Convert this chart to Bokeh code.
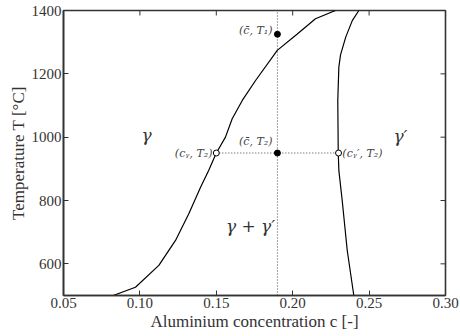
from bokeh.plotting import figure
from bokeh.models import Range1d, FixedTicker
from bokeh.core.properties import value
from bokeh.embed import file_html
from bokeh.resources import INLINE

# gamma solvus (left boundary)
gamma_c = [0.0825, 0.0971, 0.1124, 0.1233, 0.132, 0.1397, 0.1450, 0.1500, 0.156, 0.1604, 0.167, 0.1757, 0.1899, 0.203, 0.2149, 0.228]
gamma_T = [500, 526, 595, 674, 758, 842, 895, 950, 1000, 1058, 1116, 1179, 1274, 1326, 1374, 1400]
# gamma-prime boundary (right)
gprime_c = [0.2400, 0.2357, 0.2324, 0.2302, 0.2298, 0.2295, 0.2302, 0.2313, 0.2347, 0.2390, 0.2433]
gprime_T = [500, 642, 800, 895, 952, 1116, 1221, 1260, 1316, 1368, 1400]

c_bar = 0.19
T1 = 1325
T2 = 950
c_gamma = 0.15
c_gprime = 0.23

x_min, x_max = 0.05, 0.30
y_min, y_max = 500, 1400
x_ticks = [0.05, 0.10, 0.15, 0.20, 0.25, 0.30]
y_ticks = [600, 800, 1000, 1200, 1400]

FONT = "Liberation Serif"
ANN_FONT = "DejaVu Serif"
AX = "#333333"

W, H = 460, 336
BL, BR, BT, BB = 63, 15, 10, 41
TICK = 5  # tick length in px

p = figure(width=W, height=H, x_range=Range1d(x_min, x_max), y_range=Range1d(y_min, y_max),
           output_backend="svg", toolbar_location=None,
           min_border_left=BL, min_border_right=BR, min_border_top=BT, min_border_bottom=BB)
p.xgrid.visible = False
p.ygrid.visible = False
p.outline_line_color = AX
p.outline_line_width = 1.6
p.background_fill_color = "white"
p.border_fill_color = "white"

p.xaxis.axis_label = "Aluminium concentration c [-]"
p.yaxis.axis_label = "Temperature T [°C]"

for ax in p.axis:
    ax.axis_line_color = AX
    ax.axis_line_width = 1.6
    ax.major_tick_in = TICK
    ax.major_tick_out = 0
    ax.minor_tick_in = 0
    ax.minor_tick_out = 0
    ax.major_tick_line_color = AX
    ax.major_tick_line_width = 1
    ax.major_label_text_font = FONT
    ax.major_label_text_font_size = "15px"
    ax.major_label_text_color = "#333333"
    ax.axis_label_text_font = FONT
    ax.axis_label_text_font_size = "17px"
    ax.axis_label_text_font_style = "normal"
    ax.axis_label_text_color = "#333333"
    ax.major_label_standoff = 2
    ax.axis_label_standoff = 1

p.xaxis.ticker = FixedTicker(ticks=x_ticks)
p.yaxis.ticker = FixedTicker(ticks=y_ticks)
p.xaxis.major_label_overrides = {t: f"{t:.2f}" for t in x_ticks}

# mirrored inward ticks on the top and right edges
dy = TICK * (y_max - y_min) / (H - BT - BB)
dx = TICK * (x_max - x_min) / (W - BL - BR)
p.segment(x0=x_ticks, y0=[y_max] * len(x_ticks), x1=x_ticks, y1=[y_max - dy] * len(x_ticks),
          line_color=AX, line_width=1)
p.segment(x0=[x_max] * len(y_ticks), y0=y_ticks, x1=[x_max - dx] * len(y_ticks), y1=y_ticks,
          line_color=AX, line_width=1)

# dotted guide lines
p.segment(x0=[c_bar], y0=[y_min], x1=[c_bar], y1=[y_max], line_color="#444444", line_dash="1 2", line_width=1)
p.segment(x0=[c_gamma], y0=[T2], x1=[c_gprime], y1=[T2], line_color="#444444", line_dash="1 2", line_width=1)

# phase boundaries
p.line(gamma_c, gamma_T, line_color="black", line_width=1.2)
p.line(gprime_c, gprime_T, line_color="black", line_width=1.2)

# markers
p.scatter([c_bar, c_bar], [T1, T2], size=6, fill_color="black", line_color="black")
p.scatter([c_gamma, c_gprime], [T2, T2], size=6, fill_color="white", line_color="black", line_width=1)

LBL = "#444444"
p.text(x=[0.1868], y=[1337], text=["(c\u0304, T\u2081)"], text_font=value(ANN_FONT), text_font_style="italic",
       text_font_size="11px", text_align="right", text_baseline="middle", text_color=LBL)
p.text(x=[0.1868], y=[966], text=["(c\u0304, T\u2082)"], text_font=value(ANN_FONT), text_font_style="italic",
       text_font_size="11px", text_align="right", text_baseline="bottom", text_color=LBL)
p.text(x=[0.1475], y=[T2], text=["(c\u1d67, T\u2082)"], text_font=value(ANN_FONT), text_font_style="italic",
       text_font_size="11px", text_align="right", text_baseline="middle", text_color=LBL)
p.text(x=[0.2325], y=[T2], text=["(c\u1d67\u2032, T\u2082)"], text_font=value(ANN_FONT), text_font_style="italic",
       text_font_size="11px", text_align="left", text_baseline="middle", text_color=LBL)

p.text(x=[0.1043], y=[1008], text=["γ"], text_font=value(ANN_FONT), text_font_style="italic",
       text_font_size="17px", text_align="center", text_baseline="middle", text_color="#333333")
p.text(x=[0.2705], y=[1005], text=["γ\u2032"], text_font=value(ANN_FONT), text_font_style="italic",
       text_font_size="17px", text_align="center", text_baseline="middle", text_color="#333333")
p.text(x=[0.1724], y=[718], text=["γ + γ\u2032"], text_font=value(ANN_FONT), text_font_style="italic",
       text_font_size="17px", text_align="center", text_baseline="middle", text_color="#333333")

open("out.html", "w").write(file_html(p, INLINE))
